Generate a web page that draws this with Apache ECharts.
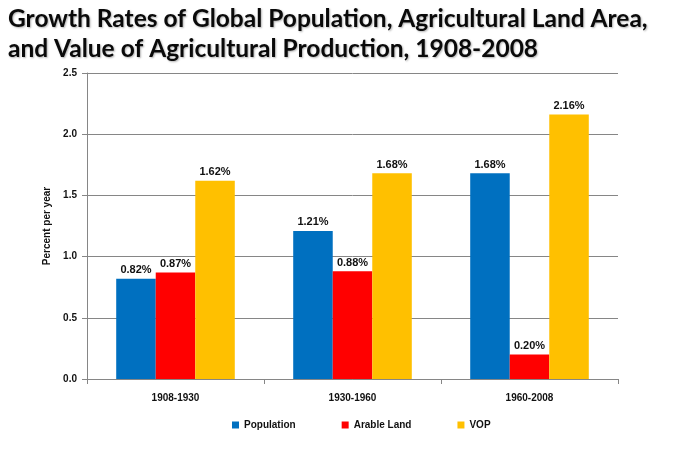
<!DOCTYPE html>
<html><head><meta charset="utf-8">
<script src="https://cdn.jsdelivr.net/npm/echarts@6/dist/echarts.min.js"></script>
<style>html,body{margin:0;padding:0;background:#fff}#c{width:674px;height:455px}</style>
</head><body><div id="c"></div>
<script>
var categories = ['1908-1930', '1930-1960', '1960-2008'];
var population = [0.82, 1.21, 1.68];
var arableLand = [0.87, 0.88, 0.20];
var vop = [1.62, 1.68, 2.16];
var yTicks = [0, 0.5, 1.0, 1.5, 2.0, 2.5];

var chart = echarts.init(document.getElementById('c'));
var lblFont = {fontFamily: 'Liberation Sans', fontWeight: 'bold', fontSize: 11, color: '#111'};
function ser(name, data, color) {
  return {
    name: name, type: 'bar', data: data, barGap: '0%', barCategoryGap: '33%',
    itemStyle: {color: color},
    label: Object.assign({show: true, position: 'top', distance: 3,
      formatter: function (p) { return p.value.toFixed(2) + '%'; }}, lblFont)
  };
}
chart.setOption({
  animation: false,
  title: {
    text: 'Growth Rates of Global Population, Agricultural Land Area,\nand Value of Agricultural Production, 1908-2008',
    left: 3, top: -1,
    textStyle: {fontFamily: 'Lato', fontWeight: 'bold', fontSize: 24.5, lineHeight: 30, color: '#0a0a0a',
      textShadowColor: 'rgba(0,0,0,0.3)', textShadowOffsetX: 1, textShadowOffsetY: 1, textShadowBlur: 2}
  },
  grid: {left: 87, right: 56, top: 73, bottom: 76},
  legend: {
    top: 415, left: 227, itemWidth: 7, itemHeight: 7, itemGap: 46,
    icon: 'rect',
    textStyle: {fontFamily: 'Liberation Sans', fontWeight: 'bold', fontSize: 10, color: '#111'},
    data: ['Population', 'Arable Land', 'VOP']
  },
  xAxis: {
    type: 'category', data: categories,
    axisLine: {lineStyle: {color: '#868686'}},
    axisTick: {show: true, length: 5, lineStyle: {color: '#868686'}},
    axisLabel: {fontFamily: 'Liberation Sans', fontWeight: 'bold', fontSize: 10, color: '#111', margin: 14}
  },
  yAxis: {
    type: 'value', min: 0, max: 2.5, interval: 0.5,
    name: 'Percent per year', nameLocation: 'middle', nameGap: 34, nameRotate: 90,
    nameTextStyle: {fontFamily: 'Liberation Sans', fontWeight: 'bold', fontSize: 10, color: '#111'},
    axisLine: {show: true, lineStyle: {color: '#868686'}},
    axisTick: {show: true, length: 5, lineStyle: {color: '#868686'}},
    splitLine: {lineStyle: {color: '#868686'}},
    axisLabel: {fontFamily: 'Liberation Sans', fontWeight: 'bold', fontSize: 10, color: '#111', margin: 10,
      formatter: function (v) { return v.toFixed(1); }}
  },
  series: [
    ser('Population', population, '#0070C0'),
    ser('Arable Land', arableLand, '#FF0000'),
    ser('VOP', vop, '#FFC000')
  ]
});
</script></body></html>
